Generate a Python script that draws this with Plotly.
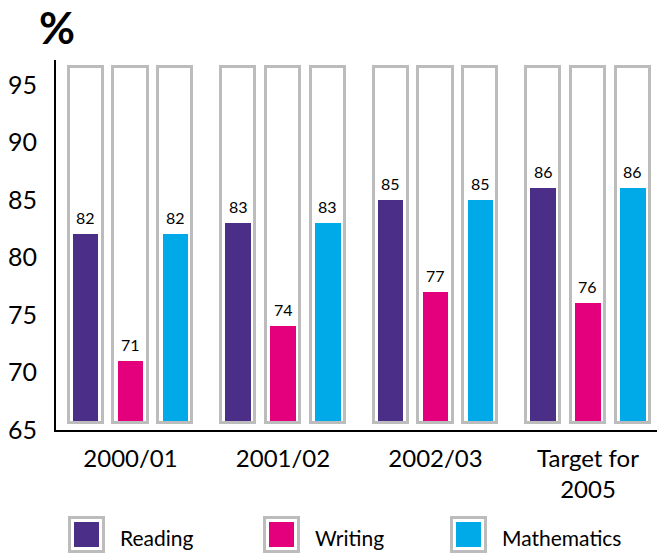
import plotly.graph_objects as go

categories = ["2000/01", "2001/02", "2002/03", "Target for<br>2005"]
series_names = ["Reading", "Writing", "Mathematics"]
reading = [82, 83, 85, 86]
writing = [71, 74, 77, 76]
mathematics = [82, 83, 85, 86]
y_ticks = [65, 70, 75, 80, 85, 90, 95]

values = [reading, writing, mathematics]
colors = ["#4a2e88", "#e4007c", "#00a9e8"]

FONT = "Lato, 'Open Sans', sans-serif"
x_idx = list(range(len(categories)))

# geometry (axis units)
shift = 0.295          # spacing between bars within a group
box_w = 0.223          # outline box width
fill_w = 0.17          # coloured bar width
box_base = 65.57
box_top = 96.52
fill_base = 65.8

fig = go.Figure()

for k, (name, vals, col) in enumerate(zip(series_names, values, colors)):
    off = (k - 1) * shift
    # outline boxes
    fig.add_trace(go.Bar(
        x=x_idx, y=[box_top - box_base] * len(x_idx), base=box_base,
        width=box_w, offset=off - box_w / 2,
        marker=dict(color="white", line=dict(color="#bcbcbc", width=3)),
        showlegend=False, hoverinfo="skip"))
    # value bars
    fig.add_trace(go.Bar(
        x=x_idx, y=[v - fill_base for v in vals], base=fill_base,
        width=fill_w, offset=off - fill_w / 2,
        marker=dict(color=col, line=dict(width=0)),
        name=name, showlegend=False))
    for i, v in zip(x_idx, vals):
        fig.add_annotation(x=i + off, y=v, text=str(v), showarrow=False,
                           yanchor="bottom", yshift=5,
                           font=dict(family=FONT, size=16, color="black"))

# custom legend (paper coordinates)
plot_l, plot_r, plot_t, plot_b = 56, 657, 60, 430
def px(x):
    return (x - plot_l) / (plot_r - plot_l)
def py(y):
    return (plot_b - y) / (plot_b - plot_t)

legend_x = [68, 263, 450]
for name, col, lx in zip(series_names, colors, legend_x):
    fig.add_shape(type="rect", xref="paper", yref="paper",
                  x0=px(lx + 1.5), x1=px(lx + 35.5), y0=py(551.5), y1=py(517.5),
                  line=dict(color="#bcbcbc", width=3), fillcolor="white")
    fig.add_shape(type="rect", xref="paper", yref="paper",
                  x0=px(lx + 6), x1=px(lx + 31), y0=py(547), y1=py(522),
                  line=dict(width=0), fillcolor=col)
    fig.add_annotation(xref="paper", yref="paper", x=px(lx + 50), y=py(537),
                       text=name, showarrow=False, xanchor="left", yanchor="middle",
                       font=dict(family=FONT, size=21, color="black"))

fig.add_annotation(xref="paper", yref="paper", x=px(57), y=py(27),
                   text="<b>%</b>", showarrow=False, xanchor="center", yanchor="middle",
                   font=dict(family=FONT, size=44, color="black"))

fig.update_layout(
    width=657, height=553,
    margin=dict(l=plot_l, r=657 - plot_r, t=plot_t, b=553 - plot_b),
    paper_bgcolor="white", plot_bgcolor="white",
    barmode="overlay", bargap=0,
    font=dict(family=FONT, color="black"),
    xaxis=dict(range=[-0.4885, 3.4525], tickvals=x_idx, ticktext=categories,
               showgrid=False, zeroline=False, showline=True, linecolor="black",
               linewidth=2, ticks="", ticklabelstandoff=6,
               tickfont=dict(family=FONT, size=24, color="black")),
    yaxis=dict(range=[65, 97.17], tickvals=y_ticks, showgrid=False, zeroline=False,
               showline=True, linecolor="black", linewidth=2, ticks="",
               ticklabelstandoff=12,
               tickfont=dict(family=FONT, size=25, color="black")),
)

fig.write_html("out.html", config={"displayModeBar": False},
               post_script="document.body.style.margin='0px';document.body.style.overflow='hidden';")
